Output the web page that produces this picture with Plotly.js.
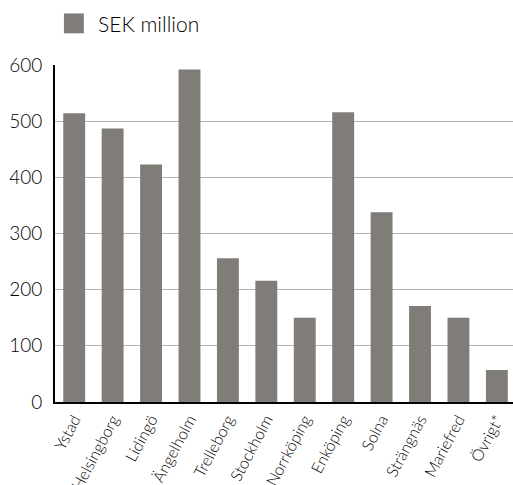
<!DOCTYPE html>
<html>
<head>
<meta charset="utf-8">
<script src="https://cdn.plot.ly/plotly-3.0.1.min.js"></script>
<style>html,body{margin:0;padding:0;background:#fff;}#chart{width:513px;height:485px;}</style>
</head>
<body>
<div id="chart"></div>
<script>
const categories = ["Ystad","Helsingborg","Lidingö","Ängelholm","Trelleborg","Stockholm","Norrköping","Enköping","Solna","Strängnäs","Mariefred","Övrigt*"];
const values = [514, 487, 423, 592, 256, 216, 150, 516, 338, 171, 150, 57];
const seriesName = "SEK million";
const yTicks = [0, 100, 200, 300, 400, 500, 600];

const barColor = "#807c78";
const font = "Lato, 'Open Sans', sans-serif";
const textColor = "#000";

const trace = {
  type: "bar",
  x: categories,
  y: values,
  name: seriesName,
  marker: {color: barColor},
  hoverinfo: "x+y"
};

const layout = {
  width: 513, height: 485,
  margin: {l: 55, r: 0, t: 65, b: 83},
  paper_bgcolor: "#fff", plot_bgcolor: "#fff",
  showlegend: false,
  bargap: 0.43,
  font: {family: font, color: textColor, weight: 300},
  xaxis: {
    type: "category",
    range: [-0.5, 11.42],
    tickangle: -62,
    tickfont: {size: 16, family: font, color: textColor, weight: 300},
    showline: true, linecolor: "#000", linewidth: 2,
    ticks: "", showgrid: false, zeroline: false
  },
  yaxis: {
    range: [0, 600],
    tickvals: yTicks,
    ticktext: yTicks.map(String),
    tickfont: {size: 19, family: font, color: textColor, weight: 300},
    showline: true, linecolor: "#000", linewidth: 2,
    showgrid: true, gridcolor: "#b4b4b4", gridwidth: 1,
    zeroline: false, ticks: "", ticklabelstandoff: 7
  },
  shapes: [{
    type: "rect", xref: "paper", yref: "paper",
    x0: 0.0195, x1: 0.063, y0: 1.094, y1: 1.153,
    fillcolor: barColor, line: {width: 0}
  }],
  annotations: [{
    xref: "paper", yref: "paper", x: 0.09, y: 1.124,
    xanchor: "left", yanchor: "middle", showarrow: false,
    text: seriesName, font: {size: 21, family: font, color: textColor, weight: 300}
  }]
};

Plotly.newPlot("chart", [trace], layout, {displayModeBar: false, staticPlot: true});
</script>
</body>
</html>
